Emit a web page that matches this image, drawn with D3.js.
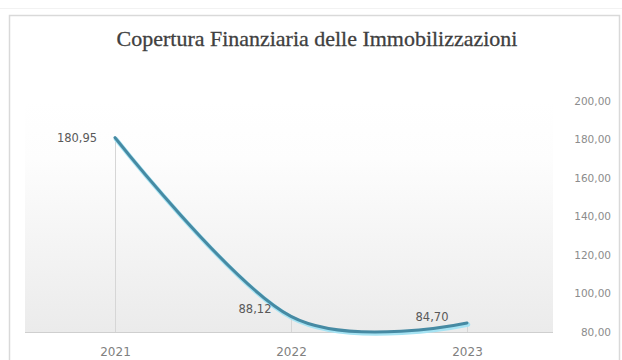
<!DOCTYPE html>
<html>
<head>
<meta charset="utf-8">
<script src="https://cdn.jsdelivr.net/npm/d3@7"></script>
<style>
  html, body { margin: 0; padding: 0; background: #fff; }
  svg { display: block; }
</style>
</head>
<body>
<script>
// Chart data
const years = ["2021", "2022", "2023"];
const coverage = [180.95, 88.12, 84.70];
const yTicks = [80, 100, 120, 140, 160, 180, 200];
const labels = ["180,95", "88,12", "84,70"];
const title = "Copertura Finanziaria delle Immobilizzazioni";

const W = 622, H = 360;
const svg = d3.select("body").append("svg").attr("width", W).attr("height", H);

const fmt = v => d3.format(".2f")(v).replace(".", ",");

// outer frame
svg.append("line").attr("x1", 0).attr("x2", W).attr("y1", 8.5).attr("y2", 8.5)
  .attr("stroke", "#f2f2f2").attr("stroke-width", 1);
svg.append("rect").attr("x", 9.5).attr("y", 15.5).attr("width", 610).attr("height", 360)
  .attr("fill", "#fff").attr("stroke", "#d9d9d9").attr("stroke-width", 1.5);

// scales
const plot = { left: 25, right: 553, top: 101, bottom: 332 };
const x = d3.scalePoint().domain(years).range([115, 467]);
const y = d3.scaleLinear().domain([80, 200]).range([plot.bottom, plot.top]);

// plot area gradient
const defs = svg.append("defs");
const grad = defs.append("linearGradient").attr("id", "bg").attr("x1", 0).attr("x2", 0).attr("y1", 0).attr("y2", 1);
grad.append("stop").attr("offset", "0%").attr("stop-color", "#ffffff");
grad.append("stop").attr("offset", "25%").attr("stop-color", "#fdfdfd");
grad.append("stop").attr("offset", "100%").attr("stop-color", "#ebebeb");
svg.append("rect").attr("x", plot.left).attr("y", plot.top)
  .attr("width", plot.right - plot.left).attr("height", plot.bottom - plot.top)
  .attr("fill", "url(#bg)");

// title
const t = svg.append("text").attr("x", 317).attr("y", 46)
  .attr("text-anchor", "middle")
  .attr("font-family", "'Liberation Serif', 'DejaVu Serif', serif")
  .attr("font-size", 100)
  .attr("fill", "#404040")
  .attr("stroke", "#404040").attr("stroke-width", 0.3)
  .text(title);
const tw = t.node().getComputedTextLength();
t.attr("font-size", 100 * 401 / tw);

// right axis
const yAxis = d3.axisRight(y).tickValues(yTicks).tickSize(0).tickPadding(0).tickFormat(fmt);
const ga = svg.append("g").attr("transform", `translate(${611},0)`).call(yAxis);
ga.select(".domain").remove();
ga.selectAll("text")
  .attr("text-anchor", "end")
  .attr("font-family", "'DejaVu Sans', sans-serif")
  .attr("font-size", 10.5)
  .attr("fill", "#8c8c8c");

// bottom axis
const xAxis = d3.axisBottom(x).tickSize(0).tickPadding(15);
const gx = svg.append("g").attr("transform", `translate(0,${plot.bottom})`).call(xAxis);
gx.select(".domain").remove();
gx.selectAll("text")
  .attr("font-family", "'DejaVu Sans', sans-serif")
  .attr("font-size", 12)
  .attr("fill", "#808080");
svg.append("line")
  .attr("x1", plot.left).attr("x2", plot.right)
  .attr("y1", plot.bottom + 0.5).attr("y2", plot.bottom + 0.5)
  .attr("stroke", "#cfcfcf").attr("stroke-width", 1);

// drop lines
const pts = years.map((yr, i) => ({ yr, v: coverage[i], lab: labels[i] }));
svg.selectAll(".drop").data(pts).enter().append("line")
  .attr("x1", d => x(d.yr) + 0.5).attr("x2", d => x(d.yr) + 0.5)
  .attr("y1", d => y(d.v)).attr("y2", plot.bottom)
  .attr("stroke", "#d6d6d6").attr("stroke-width", 1);

// smoothed line with soft shadow
const line = d3.line().x(d => x(d.yr)).y(d => y(d.v)).curve(d3.curveCardinal.tension(0));
svg.append("path").datum(pts).attr("d", line)
  .attr("transform", "translate(1,1.5)")
  .attr("fill", "none").attr("stroke", "#a6e3f3").attr("stroke-width", 4.5)
  .attr("stroke-linecap", "round");
svg.append("path").datum(pts).attr("d", line)
  .attr("fill", "none").attr("stroke", "#468aa3").attr("stroke-width", 3)
  .attr("stroke-linecap", "round");

// data labels
const labelOffsets = [[-38, 1], [-36, -7], [-35, -5]];
svg.selectAll(".lab").data(pts).enter().append("text")
  .attr("x", (d, i) => x(d.yr) + labelOffsets[i][0])
  .attr("y", (d, i) => y(d.v) + labelOffsets[i][1])
  .attr("text-anchor", "middle")
  .attr("dominant-baseline", "middle")
  .attr("font-family", "'DejaVu Sans', sans-serif")
  .attr("font-size", 11.5)
  .attr("fill", "#595959")
  .text(d => d.lab);
</script>
</body>
</html>
